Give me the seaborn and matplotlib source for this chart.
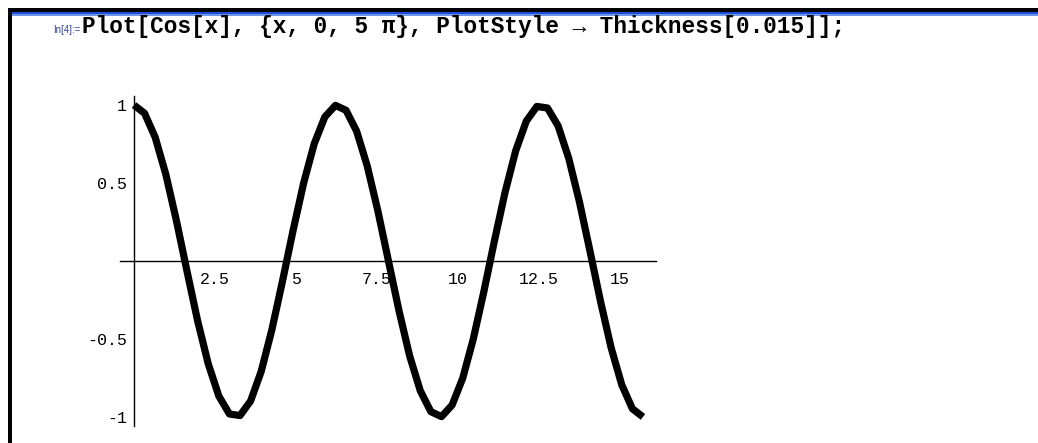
import matplotlib
matplotlib.use("Agg")
import matplotlib.pyplot as plt
from matplotlib.patches import Rectangle
from matplotlib.ticker import MultipleLocator
import seaborn as sns
import pandas as pd

# Sampled curve of Cos[x] over {x, 0, 5 Pi}
x_vals = [0.000, 0.327, 0.654, 0.982, 1.309, 1.636, 1.963, 2.291, 2.618, 2.945,
          3.272, 3.600, 3.927, 4.254, 4.581, 4.909, 5.236, 5.563, 5.890, 6.218,
          6.545, 6.872, 7.199, 7.527, 7.854, 8.181, 8.508, 8.836, 9.163, 9.490,
          9.817, 10.145, 10.472, 10.799, 11.126, 11.454, 11.781, 12.108, 12.435,
          12.763, 13.090, 13.417, 13.744, 14.072, 14.399, 14.726, 15.053, 15.381,
          15.708]
y_vals = [1.000, 0.947, 0.793, 0.556, 0.259, -0.065, -0.383, -0.659, -0.866, -0.981,
          -0.991, -0.897, -0.707, -0.442, -0.131, 0.195, 0.500, 0.752, 0.924, 0.998,
          0.966, 0.832, 0.609, 0.321, 0.000, -0.321, -0.609, -0.832, -0.966, -0.998,
          -0.924, -0.752, -0.500, -0.195, 0.131, 0.442, 0.707, 0.897, 0.991,
          0.981, 0.866, 0.659, 0.383, 0.065, -0.259, -0.556, -0.793, -0.947,
          -1.000]

x_ticks = [2.5, 5, 7.5, 10, 12.5, 15]
x_tick_labels = ["2.5", "5", "7.5", "10", "12.5", "15"]
y_ticks = [-1, -0.5, 0.5, 1]
y_tick_labels = ["-1", "-0.5", "0.5", "1"]

input_label = "In[4]:="
input_code = "Plot[Cos[x], {x, 0, 5 \u03c0}, PlotStyle \u2192 Thickness[0.015]];"

sns.set_style("white")
plt.rcParams["font.family"] = ["Liberation Mono", "DejaVu Sans Mono"]

W, H = 1038, 443
fig = plt.figure(figsize=(W / 100, H / 100), dpi=100)
fig.patch.set_facecolor("white")


def fx(px):
    return px / W


def fy(py):
    return 1 - py / H


# notebook window frame
fig.add_artist(Rectangle((fx(8), fy(12)), fx(W - 8), 4 / H, transform=fig.transFigure,
                         facecolor="#000000", edgecolor="none"))
fig.add_artist(Rectangle((fx(12), fy(14)), fx(W - 12), 2 / H, transform=fig.transFigure,
                         facecolor="#1c4fd6", edgecolor="none"))
fig.add_artist(Rectangle((fx(12), fy(16)), fx(W - 12), 2 / H, transform=fig.transFigure,
                         facecolor="#6d96ea", edgecolor="none"))
fig.add_artist(Rectangle((fx(8), 0), fx(4), fy(8), transform=fig.transFigure,
                         facecolor="#000000", edgecolor="none"))

# input cell
fig.text(fx(53), fy(33), input_label, fontsize=7, color="#3a45a0",
         family=["Liberation Sans", "DejaVu Sans"], va="baseline", ha="left")
fig.text(fx(82), fy(33), input_code, fontsize=16.4, fontweight="bold", color="black",
         family=["Liberation Mono", "DejaVu Sans Mono"], va="baseline", ha="left")

# plot area
x_px0 = 134.0
px_per_x = 32.4
ax_left, ax_right = 120.0, 656.0
ax_top, ax_bot = 96.0, 426.0
ax = fig.add_axes([fx(ax_left), (H - ax_bot) / H, (ax_right - ax_left) / W,
                   (ax_bot - ax_top) / H])
ax.set_facecolor("none")

df = pd.DataFrame({"x": x_vals, "y": y_vals})
sns.lineplot(data=df, x="x", y="y", ax=ax, sort=False, estimator=None,
             color="black", linewidth=5.2, solid_capstyle="butt",
             solid_joinstyle="round", zorder=3)

ax.set_xlim((ax_left - x_px0) / px_per_x, (ax_right - x_px0) / px_per_x)
ax.set_ylim(-1.058, 1.058)

for side in ["top", "right"]:
    ax.spines[side].set_visible(False)
ax.spines["left"].set_position(("data", 0))
ax.spines["bottom"].set_position(("data", 0))
for side in ["left", "bottom"]:
    ax.spines[side].set_color("black")
    ax.spines[side].set_linewidth(1.0)
    ax.spines[side].set_zorder(2)

ax.set_xticks(x_ticks, labels=x_tick_labels)
ax.set_yticks(y_ticks, labels=y_tick_labels)
ax.xaxis.set_minor_locator(MultipleLocator(0.5))
ax.yaxis.set_minor_locator(MultipleLocator(0.1))
ax.tick_params(which="major", direction="in", length=4, width=0.9, color="black",
               labelsize=12, labelcolor="black")
ax.tick_params(which="minor", direction="in", length=2.5, width=0.9, color="black")
ax.tick_params(axis="x", which="major", pad=8)
ax.tick_params(axis="y", which="major", pad=5)
ax.set_axisbelow(True)
ax.set_xlabel("")
ax.set_ylabel("")
ax.grid(False)

fig.savefig("out.png", dpi=100, facecolor="white")
